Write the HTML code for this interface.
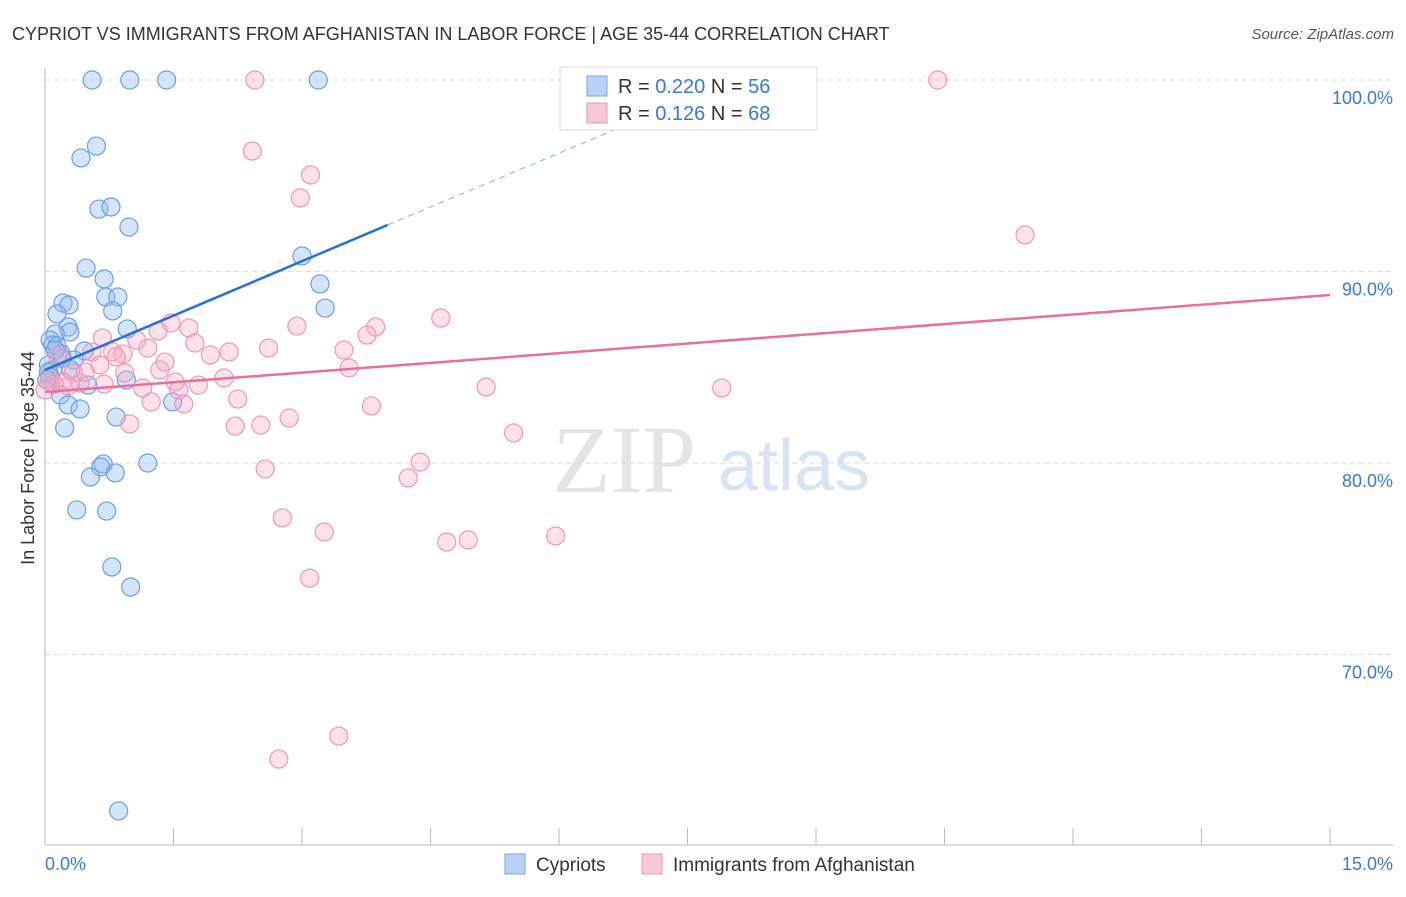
<!DOCTYPE html>
<html><head><meta charset="utf-8"><style>
body{margin:0;background:#fff;font-family:"Liberation Sans",sans-serif}
</style></head><body>
<svg width="1406" height="892" xmlns="http://www.w3.org/2000/svg" id="svg">
<text x="12" y="40" font-size="18" fill="#333">CYPRIOT VS IMMIGRANTS FROM AFGHANISTAN IN LABOR FORCE | AGE 35-44 CORRELATION CHART</text>
<text x="1394" y="39" font-size="15" fill="#555" font-style="italic" text-anchor="end">Source: ZipAtlas.com</text>
<text x="0" y="0" transform="translate(34,458) rotate(-90)" font-size="18" fill="#333" text-anchor="middle">In Labor Force | Age 35-44</text>
<g><text x="552" y="492" font-size="96" font-family="Liberation Serif,serif" fill="#e4e4e4">ZIP</text><text x="718" y="490" font-size="72" fill="#d8e4f4">atlas</text></g>
<g id="grid"></g><g id="axes"></g><g id="pts"></g><g id="trend"></g>
<g>
<rect x="560" y="67" width="257" height="63" fill="#fff" stroke="#ddd"/>
<rect x="587" y="76" width="20" height="20" fill="#b8d2f4" stroke="#7aa6e0"/>
<text x="618" y="93" font-size="20" fill="#333">R = <tspan fill="#3a78d8">0.220</tspan>   N = <tspan fill="#3a78d8">56</tspan></text>
<rect x="587" y="103" width="20" height="20" fill="#f8c8d6" stroke="#e897b2"/>
<text x="618" y="120" font-size="20" fill="#333">R =  <tspan fill="#3a78d8">0.126</tspan>   N = <tspan fill="#3a78d8">68</tspan></text>
</g>
<g>
<rect x="505" y="854" width="20" height="20" fill="#b8d2f4" stroke="#7aa6e0"/>
<text x="536" y="871" font-size="19" fill="#333">Cypriots</text>
<rect x="642" y="854" width="20" height="20" fill="#f8c8d6" stroke="#e897b2"/>
<text x="673" y="871" font-size="19" fill="#333">Immigrants from Afghanistan</text>
</g>
</svg>
<script>
const xTicks=[0,15];
const yTicks=[70,80,90,100];
const blueX=[0.55,0.99,1.42,3.19,0.60,0.42,0.63,0.77,0.98,0.48,0.69,3.00,3.21,0.71,0.85,0.21,0.28,0.14,0.79,3.27,0.96,0.27,0.29,0.12,0.06,0.09,0.14,0.46,0.19,0.34,0.04,0.09,0.04,0.06,0.50,0.95,0.18,0.27,0.41,1.49,0.83,0.23,1.20,0.68,0.65,0.53,0.82,0.37,0.72,0.78,1.00,0.86,0.02,0.20,0.30,0.12];
const blueY=[100,100,100,100,96.55,95.93,93.26,93.37,92.32,90.18,89.61,90.81,89.35,88.67,88.67,88.35,88.25,87.78,87.94,88.09,87.0,87.1,86.84,86.74,86.42,86.16,86.11,85.85,85.69,85.38,85.12,84.86,84.75,84.49,84.07,84.33,83.55,83.03,82.82,83.19,82.40,81.83,80.0,79.95,79.79,79.27,79.48,77.55,77.49,74.57,73.52,61.83,84.33,85.48,84.86,85.9];
const pinkX=[2.45,6.88,10.42,2.42,3.10,2.98,11.44,1.47,1.68,1.32,2.94,3.86,3.76,4.62,0.67,1.07,1.75,1.20,2.61,2.15,1.93,0.79,0.91,0.83,1.40,0.55,0.15,0.64,3.49,3.55,1.34,0.93,0.33,0.41,0.05,0.11,0.21,1.52,1.79,2.09,1.14,1.56,1.24,1.62,2.25,5.15,7.90,3.81,2.85,0.99,2.22,2.52,5.47,4.38,2.57,4.24,2.77,3.26,4.69,4.94,5.96,3.09,3.43,2.73,0.69,0.47,0.27,0];
const pinkY=[100,100,100,96.29,95.04,93.84,91.91,87.31,87.05,86.89,87.15,87.10,86.68,87.57,86.53,86.42,86.27,86.0,86.0,85.80,85.64,85.80,85.69,85.54,85.27,85.80,85.59,85.12,85.90,84.96,84.86,84.70,84.70,84.18,84.33,84.12,84.23,84.23,84.07,84.44,83.92,83.81,83.19,83.08,83.34,83.97,83.92,82.98,82.35,82.04,81.93,81.98,81.57,80.05,79.69,79.22,77.13,76.40,75.87,75.98,76.19,73.99,65.74,64.54,84.12,84.75,84.02,83.81];
const blueTrend=[84.86,92.43,97.83]; const blueTrendX=[0,4.0,6.88];
const pinkTrend=[83.71,88.77]; const pinkTrendX=[0,15];
const X=v=>45+v*(1285/15), Y=v=>80+(100-v)*19.15;
const NS="http://www.w3.org/2000/svg";
function mk(p,t,a){const e=document.createElementNS(NS,t);for(const k in a)e.setAttribute(k,a[k]);document.getElementById(p).appendChild(e);return e;}
yTicks.forEach(t=>{
 const l=mk('grid','line',{x1:45,x2:1393,y1:Y(t),y2:Y(t),stroke:'#ddd','stroke-dasharray':'5,4'});
 
 
 const tx=mk('axes','text',{x:1393,y:Y(t)+24,'font-size':18,fill:'#3a78d8','text-anchor':'end'});tx.textContent=t.toFixed(1)+'%';
 
 
});
mk('axes','line',{x1:45,x2:45,y1:68,y2:845,stroke:'#bbb'});
mk('axes','line',{x1:45,x2:1393,y1:845,y2:845,stroke:'#bbb'});
for(let k=0;k<=10;k++){const x=X(k*1.5);mk('axes','line',{x1:x,x2:x,y1:828,y2:845,stroke:'#bbb'});}
xTicks.forEach((t,i)=>{const tx=mk('axes','text',{x:i?1393:45,y:870,'font-size':18,fill:'#3a78d8','text-anchor':i?'end':'start'});tx.textContent=t.toFixed(1)+'%';
 
 });
blueX.forEach((v,i)=>{const c=mk('pts','circle',{cx:X(v),cy:Y(blueY[i]),r:9,fill:'rgba(150,190,240,0.4)',stroke:'#6c9ee0','stroke-width':1.2});
 
 });
pinkX.forEach((v,i)=>{const c=mk('pts','circle',{cx:X(v),cy:Y(pinkY[i]),r:9,fill:'rgba(245,170,195,0.35)',stroke:'#eb98b6','stroke-width':1.2});
 
 });
let b=mk('trend','line',{x1:X(blueTrendX[0]),y1:Y(blueTrend[0]),x2:X(blueTrendX[1]),y2:Y(blueTrend[1]),stroke:'#2a6fd8','stroke-width':2.5});


let bd=mk('trend','line',{x1:X(blueTrendX[1]),y1:Y(blueTrend[1]),x2:X(blueTrendX[2]),y2:Y(blueTrend[2]),stroke:'#8ab0e8','stroke-width':1,'stroke-dasharray':'6,5'});


let p=mk('trend','line',{x1:X(pinkTrendX[0]),y1:Y(pinkTrend[0]),x2:X(pinkTrendX[1]),y2:Y(pinkTrend[1]),stroke:'#e8709a','stroke-width':2.5});


</script>
</body></html>
